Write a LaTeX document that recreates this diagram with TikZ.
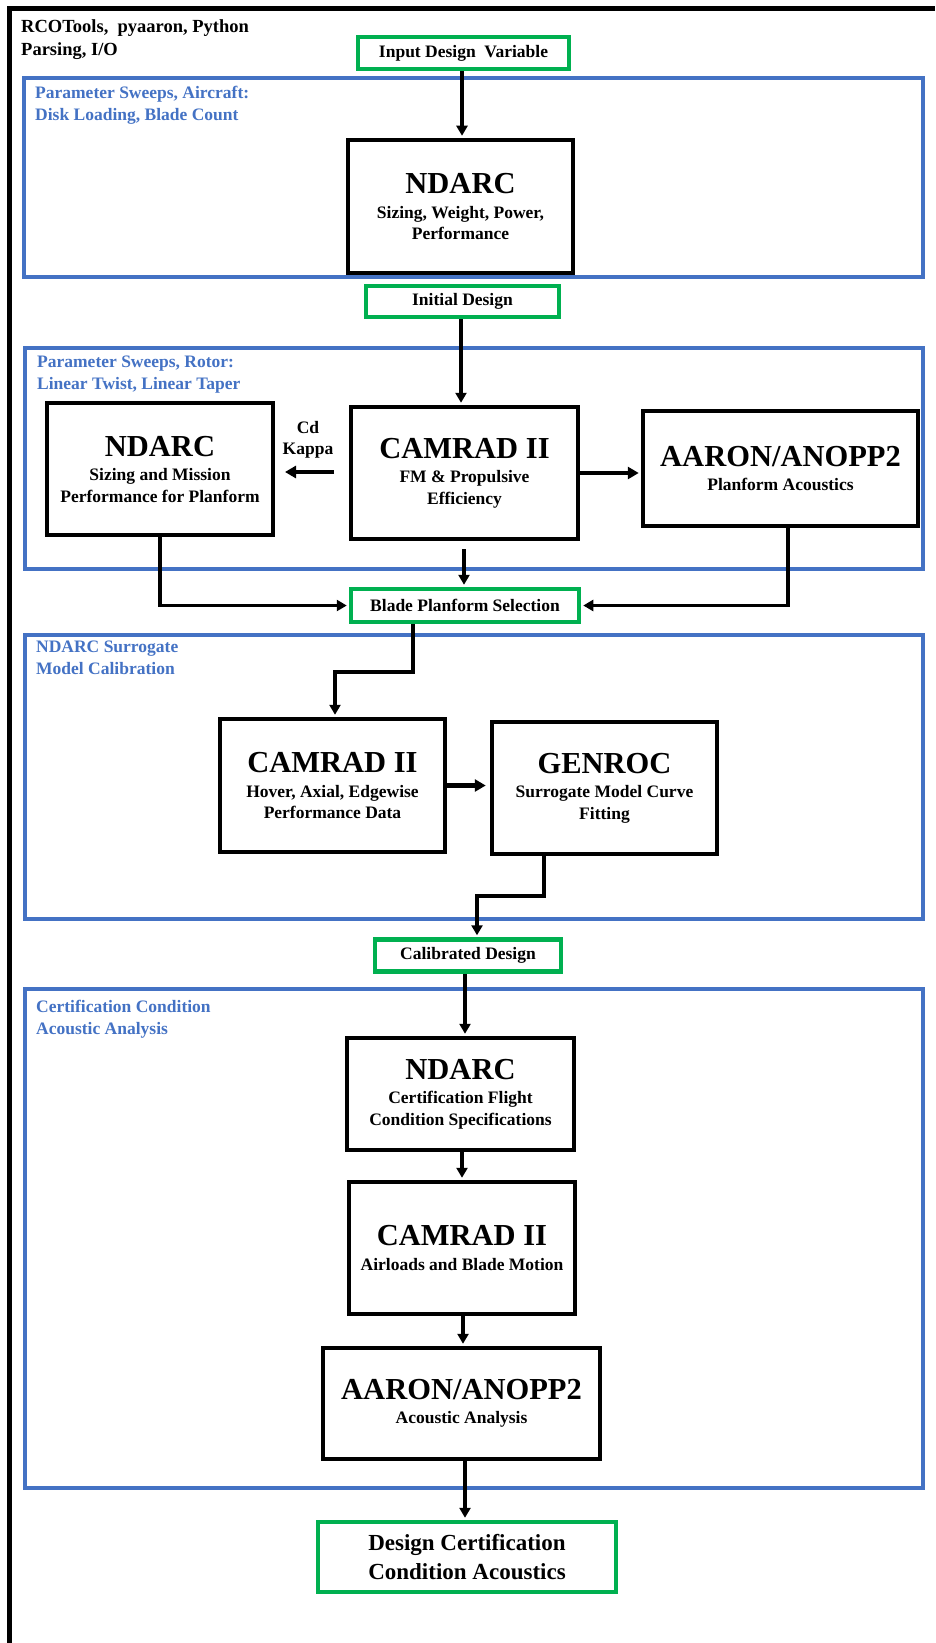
\documentclass[tikz,border=0pt]{standalone}
\usepackage{fontspec}
\setmainfont{Liberation Serif}
\usetikzlibrary{arrows.meta,calc}
\definecolor{bluebox}{HTML}{4472C4}
\definecolor{greenbox}{HTML}{00B050}
\newcommand\boxtitle[1]{{\fontsize{30.5}{30.5}\selectfont #1}\\[3pt]}
\begin{document}
\begin{tikzpicture}[x=1pt,y=-1pt,
  font=\bfseries\fontsize{17.5}{21.5}\selectfont,
  blk/.style={draw=black,line width=4.5pt,inner sep=0pt,align=center,fill=white},
  grn/.style={draw=greenbox,line width=4.5pt,inner sep=0pt,align=center,fill=white},
  grp/.style={draw=bluebox,line width=4pt},
  grplabel/.style={text=bluebox,anchor=north west,inner sep=0pt,align=left},
  conn/.style={line width=3.2pt,shorten >=2pt,-{Triangle[length=10pt,width=11pt]}},
  thickconn/.style={line width=4.5pt,-{Triangle[length=11pt,width=12pt]}}
]
\useasboundingbox (0,0) rectangle (935,1643);
% outer frame
\draw[line width=5pt] (9,1643) -- (9,8.5) -- (935,8.5);
\node[anchor=north west,inner sep=0pt,align=left,font=\bfseries\fontsize{18.5}{23}\selectfont] (tools) at (21,19) {RCOTools,\ \ pyaaron, Python\\Parsing, I/O};

% group frames
\draw[grp] (24,78) rectangle (923,277);
\draw[grp] (25,348) rectangle (923,569);
\draw[grp] (25,635) rectangle (923,919);
\draw[grp] (25,989) rectangle (923,1488);
\node[grplabel] (l1) at (35,86) {Parameter Sweeps, Aircraft:\\Disk Loading, Blade Count};
\node[grplabel] (l2) at (37,356) {Parameter Sweeps, Rotor:\\Linear Twist, Linear Taper};
\node[grplabel] (l3) at (36,641) {NDARC Surrogate\\Model Calibration};
\node[grplabel] (l4) at (36,1000) {Certification Condition\\Acoustic Analysis};

% nodes
\node[grn,minimum width=211pt,minimum height=32pt] (inp) at (463.5,53) {Input Design\ \ Variable};
\node[blk,minimum width=225pt,minimum height=133pt] (nd1) at (460.5,206.5) {\boxtitle{NDARC}Sizing, Weight, Power,\\Performance};
\node[grn,minimum width=193pt,minimum height=31pt] (init) at (462.5,301.5) {Initial Design};
\node[blk,minimum width=226pt,minimum height=132pt] (nd2) at (160,469) {\boxtitle{NDARC}Sizing and Mission\\Performance for Planform};
\node[blk,minimum width=227pt,minimum height=132pt] (cam2) at (464.5,473) {\boxtitle{CAMRAD II}FM \& Propulsive\\Efficiency};
\node[blk,minimum width=275pt,minimum height=115pt] (aar2) at (780.5,468.5) {\boxtitle{AARON/ANOPP2}Planform Acoustics};
\node[grn,minimum width=228pt,minimum height=33pt] (blade) at (465,605.5) {Blade Planform Selection};
\node[blk,minimum width=225pt,minimum height=133pt] (cam3) at (332.5,785.5) {\boxtitle{CAMRAD II}Hover, Axial, Edgewise\\Performance Data};
\node[blk,minimum width=225pt,minimum height=132pt] (gen) at (604.5,788) {\boxtitle{GENROC}Surrogate Model Curve\\Fitting};
\node[grn,minimum width=186pt,minimum height=32pt] (cal) at (468,955.5) {Calibrated Design};
\node[blk,minimum width=227pt,minimum height=112pt] (nd3) at (460.5,1094) {\boxtitle{NDARC}Certification Flight\\Condition Specifications};
\node[blk,minimum width=226pt,minimum height=132pt] (cam3b) at (462,1248) {\boxtitle{CAMRAD II}Airloads and Blade Motion};
\node[blk,minimum width=277pt,minimum height=111pt] (aar3) at (461.5,1403.5) {\boxtitle{AARON/ANOPP2}Acoustic Analysis};
\node[grn,minimum width=298pt,minimum height=70pt,font=\bfseries\fontsize{23}{29}\selectfont] (dc) at (467,1557) {Design Certification\\Condition Acoustics};

% connectors
\coordinate (x462) at (462,0);
\coordinate (x461) at (461,0);
\draw[conn] (inp.south -| x462) -- (nd1.north -| x462);
\draw[conn] (init.south -| x461) -- (cam2.north -| x461);
\coordinate (kA) at (334,472);
\coordinate (kB) at (285,472);
\draw[thickconn] (kA) -- (kB);
\node[align=center,inner sep=0pt] (cdk) at (308,440) {Cd\\Kappa};
\draw[thickconn,shorten >=2pt] (cam2.east) -- (cam2.east -| aar2.west);
\coordinate (camdrop) at (464,549);
\draw[conn] (camdrop) -- (blade.north -| camdrop);
\draw[conn] (nd2.south) |- (blade.west);
\coordinate (aarx) at (788,0);
\draw[conn] (aar2.south -| aarx) |- (blade.east);
\coordinate (b1) at (413,672);
\coordinate (b2) at (335,672);
\draw[conn] (blade.south -| b1) -- (b1) -- (b2) -- (cam3.north -| b2);
\draw[thickconn,shorten >=4pt] (cam3.east) -- (cam3.east -| gen.west);
\coordinate (g1) at (544,896);
\coordinate (g2) at (477,896);
\draw[conn] (gen.south -| g1) -- (g1) -- (g2) -- (cal.north -| g2);
\coordinate (x465) at (465,0);
\coordinate (x463) at (463,0);
\draw[conn] (cal.south -| x465) -- (nd3.north -| x465);
\draw[conn] (nd3.south -| x462) -- (cam3b.north -| x462);
\draw[conn] (cam3b.south -| x463) -- (aar3.north -| x463);
\draw[conn] (aar3.south -| x465) -- (dc.north -| x465);
\end{tikzpicture}
\end{document}
